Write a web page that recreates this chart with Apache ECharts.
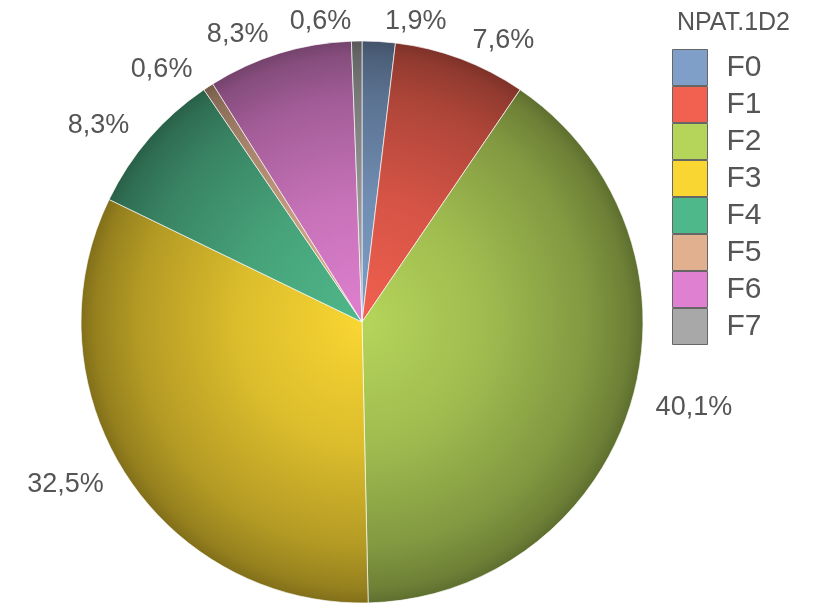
<!DOCTYPE html>
<html>
<head>
<meta charset="utf-8">
<script src="https://cdn.jsdelivr.net/npm/echarts@6/dist/echarts.min.js"></script>
<style>html,body{margin:0;padding:0;background:#fff}#c{width:817px;height:605px}</style>
</head>
<body>
<div id="c"></div>
<script>
var legendTitle = 'NPAT.1D2';
var categories = ['F0', 'F1', 'F2', 'F3', 'F4', 'F5', 'F6', 'F7'];
var values = [1.9, 7.6, 40.1, 32.5, 8.3, 0.6, 8.3, 0.6];
var colors = ['#7f9fc9', '#f2604f', '#b5d55a', '#f9d632', '#4fb88a', '#e0b08f', '#e080d0', '#a8a8a8'];

function shade(hex, f) {
  var n = parseInt(hex.slice(1), 16);
  var r = Math.round(((n >> 16) & 255) * f), g = Math.round(((n >> 8) & 255) * f), b = Math.round((n & 255) * f);
  return 'rgb(' + r + ',' + g + ',' + b + ')';
}
var CX = 362, CY = 322, R = 281;
function grad(hex) {
  return {
    type: 'radial', x: CX, y: CY, r: R, global: true,
    colorStops: [
      { offset: 0, color: shade(hex, 1.0) },
      { offset: 0.45, color: shade(hex, 0.88) },
      { offset: 0.8, color: shade(hex, 0.72) },
      { offset: 0.95, color: shade(hex, 0.6) },
      { offset: 1, color: shade(hex, 0.52) }
    ]
  };
}

var chart = echarts.init(document.getElementById('c'));
chart.setOption({
  animation: false,
  title: {
    text: legendTitle, left: 672, top: 6,
    textStyle: { fontFamily: 'Liberation Sans', fontSize: 25, fontWeight: 'normal', color: '#555' }
  },
  legend: {
    orient: 'vertical', left: 672, top: 49, padding: 0,
    itemWidth: 35, itemHeight: 36, itemGap: 0, icon: 'rect',
    data: categories.map(function (c, i) {
      return { name: c, itemStyle: { color: colors[i], borderColor: '#666', borderWidth: 1 } };
    }),
    textStyle: { fontFamily: 'Liberation Sans', fontSize: 30, color: '#555', lineHeight: 36, padding: [0, 0, 0, 14] }
  },
  series: [{
    type: 'pie',
    center: [CX, CY],
    radius: R,
    startAngle: 90,
    clockwise: true,
    avoidLabelOverlap: false,
    label: {
      show: true, position: 'outside',
      fontFamily: 'Liberation Sans', fontSize: 27, color: '#555',
      formatter: function (p) { return p.value.toFixed(1).replace('.', ',') + '%'; }
    },
    labelLine: { show: false, length: 20, length2: 0 },
    itemStyle: { borderColor: 'rgba(255,255,255,0.65)', borderWidth: 1 },
    emphasis: { disabled: true },
    data: categories.map(function (c, i) {
      return { name: c, value: values[i], itemStyle: { color: grad(colors[i]) } };
    })
  }]
});
</script>
</body>
</html>
